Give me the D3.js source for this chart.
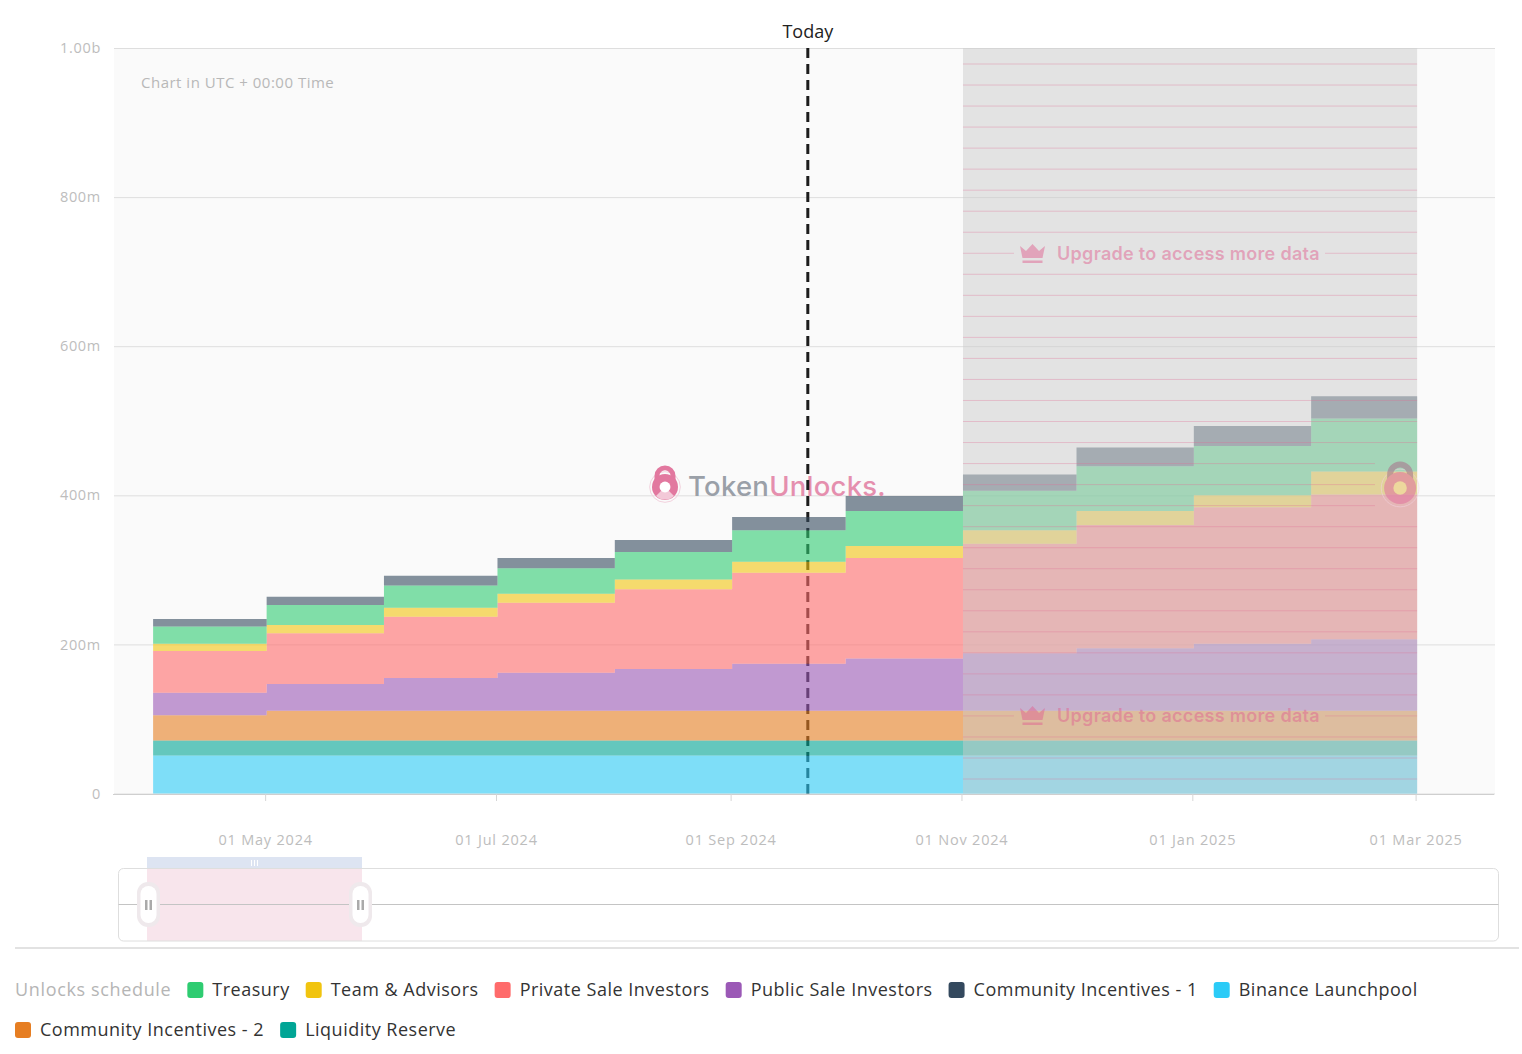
<!DOCTYPE html>
<html>
<head>
<meta charset="utf-8">
<style>
  body { margin: 0; background: #fff; }
  svg { display: block; font-family: "Open Sans", sans-serif; }
</style>
<script src="https://cdn.jsdelivr.net/npm/d3@7"></script>
</head>
<body>
<svg id="chart" width="1522" height="1054"></svg>
<script>
// start of each monthly unlock step, the last one only closes the final step
var stepDates = ["2024-04-01","2024-05-01","2024-06-01","2024-07-01","2024-08-01","2024-09-01",
                 "2024-10-01","2024-11-01","2024-12-01","2025-01-01","2025-02-01","2025-03-01"];

// values in millions of tokens
var binanceLaunchpool = [51,51,51,51,51,51,51,51,51,51,51];
var liquidityReserve = [20,20,20,20,20,20,20,20,20,20,20];
var communityIncentives2 = [34,40,40,40,40,40,40,40,40,40,40];
var publicSaleInvestors = [30,36,44,51,56,63,70,77,84,90,96];
var privateSaleInvestors = [56,68,82,94,107,122,135,147,165,183,194];
var teamAdvisors = [10,11,12,12,13,15,16,18,19,16,31];
var treasury = [23,27,30,34,37,42,47,53,60,66,71];
var communityIncentives1 = [10,11,13,14,16,18,20,22,25,27,30];

var yTickValues = [0,200,400,600,800,1000];
var yTickLabels = ["0","200m","400m","600m","800m","1.00b"];
var xTickDates = ["2024-05-01","2024-07-01","2024-09-01","2024-11-01","2025-01-01","2025-03-01"];
var todayDate = "2024-09-21";
var lockedFrom = "2024-11-01";
var lockedTo = "2025-03-01";

var legendNames = ["Treasury","Team & Advisors","Private Sale Investors","Public Sale Investors",
                   "Community Incentives - 1","Binance Launchpool","Community Incentives - 2","Liquidity Reserve"];
var legendColors = ["#2ecc71","#f1c40f","#ff6b6b","#9b59b6","#34495e","#2bcbf7","#e67e22","#00a595"];

// bottom to top, same order the chart stacks them
var stackOrder = [
  {name: "Binance Launchpool", values: binanceLaunchpool},
  {name: "Liquidity Reserve", values: liquidityReserve},
  {name: "Community Incentives - 2", values: communityIncentives2},
  {name: "Public Sale Investors", values: publicSaleInvestors},
  {name: "Private Sale Investors", values: privateSaleInvestors},
  {name: "Team & Advisors", values: teamAdvisors},
  {name: "Treasury", values: treasury},
  {name: "Community Incentives - 1", values: communityIncentives1}
];

var parseDate = d3.utcParse("%Y-%m-%d");
var svg = d3.select("#chart");

var plot = {left: 114, right: 1495, top: 48, bottom: 793.5};

var x = d3.scaleUtc()
  .domain([new Date(Date.UTC(2024,2,21,16)), new Date(Date.UTC(2025,2,21,14))])
  .range([plot.left, plot.right]);
var y = d3.scaleLinear().domain([0,1000]).range([plot.bottom, plot.top]);
var color = d3.scaleOrdinal().domain(legendNames).range(legendColors);

svg.append("rect")
  .attr("x", plot.left).attr("y", plot.top)
  .attr("width", plot.right - plot.left).attr("height", plot.bottom - plot.top)
  .attr("fill", "#fafafa");

// y axis with gridlines
var yAxis = svg.append("g")
  .attr("transform", "translate(" + plot.left + ",0)")
  .call(d3.axisLeft(y)
    .tickValues(yTickValues)
    .tickSize(-(plot.right - plot.left))
    .tickPadding(13)
    .tickFormat(function(d, i) { return yTickLabels[i]; }));
yAxis.select(".domain").remove();
yAxis.selectAll("line").attr("stroke", "#dedede");
yAxis.selectAll("text").attr("fill", "#bdbdbd").style("font-size", "14.5px")
  .style("font-family", "'Open Sans'").style("letter-spacing", "0.7px");

// x axis
var xAxis = svg.append("g")
  .attr("transform", "translate(-1.5," + (plot.bottom + 0.5) + ")")
  .call(d3.axisBottom(x)
    .tickValues(xTickDates.map(parseDate))
    .tickSize(7)
    .tickSizeOuter(0)
    .tickPadding(34)
    .tickFormat(d3.utcFormat("%d %b %Y")));
xAxis.select(".domain").attr("stroke", "#cfcfcf");
xAxis.selectAll("line").attr("stroke", "#d6d6d6");
xAxis.selectAll("text").attr("fill", "#bdbdbd").style("font-size", "14.5px")
  .style("font-family", "'Open Sans'").style("letter-spacing", "0.8px");

svg.append("text")
  .attr("x", 141).attr("y", 88)
  .attr("fill", "#b8b8b8").style("font-size", "15px").style("letter-spacing", "0.5px")
  .text("Chart in UTC + 00:00 Time");

// lock icon of the watermark
function drawLock(cx, cy, r, bodyColor, shackleColor, holeColor) {
  var g = svg.append("g").attr("transform", "translate(" + cx + "," + cy + ")");
  g.append("circle").attr("r", r * 1.18).attr("fill", "none").attr("stroke", "#f3d2de").attr("stroke-width", 1);
  g.append("path")
    .attr("d", "M" + (-r*0.62) + "," + (-r*0.5) + "V" + (-r*0.85) + "A" + (r*0.62) + "," + (r*0.62) + " 0 0 1 " + (r*0.62) + "," + (-r*0.85) + "V" + (-r*0.5))
    .attr("fill", "none").attr("stroke", shackleColor).attr("stroke-width", r*0.38);
  g.append("circle").attr("r", r).attr("fill", bodyColor);
  g.append("circle").attr("r", r*0.42).attr("fill", holeColor);
  return g;
}

// first logo stays under the areas
var firstLock = drawLock(665, 487, 13, "#e2789f", "#e2789f", "#fff");
firstLock.append("path")
  .attr("d", "M-9,9A13,13 0 0 0 9,9L4,4H-4Z")
  .attr("fill", "#fff").attr("fill-opacity", 0.6);

var wm = svg.append("text")
  .attr("x", 688).attr("y", 496)
  .style("font-family", "Inter").style("font-size", "27.5px").style("font-weight", 500).style("letter-spacing", "0.25px");
wm.append("tspan").attr("fill", "#9aa0a8").text("Token");
wm.append("tspan").attr("fill", "#e58fae").text("Unlocks.");

// today marker, the areas are painted over it
svg.append("text")
  .attr("x", x(parseDate(todayDate))).attr("y", 38)
  .attr("text-anchor", "middle")
  .attr("fill", "#222").style("font-size", "18px")
  .text("Today");
svg.append("line")
  .attr("x1", x(parseDate(todayDate))).attr("x2", x(parseDate(todayDate)))
  .attr("y1", plot.top).attr("y2", plot.bottom)
  .attr("stroke", "#1c1c1c").attr("stroke-width", 3)
  .attr("stroke-dasharray", "10,6");

// stacked step areas
var rows = stepDates.map(function(d, i) {
  var row = {date: parseDate(d)};
  stackOrder.forEach(function(s) {
    row[s.name] = s.values[Math.min(i, s.values.length - 1)];
  });
  return row;
});

var series = d3.stack().keys(stackOrder.map(function(s) { return s.name; }))(rows);

var area = d3.area()
  .curve(d3.curveStepAfter)
  .x(function(d) { return x(d.data.date); })
  .y0(function(d) { return y(d[0]); })
  .y1(function(d) { return y(d[1]); });

svg.append("g").selectAll("path")
  .data(series)
  .join("path")
  .attr("d", area)
  .attr("fill", function(d) { return color(d.key); })
  .attr("fill-opacity", 0.6);

// paywall cover on the months that are locked
var lockX0 = x(parseDate(lockedFrom));
var lockX1 = x(parseDate(lockedTo));

svg.append("rect")
  .attr("x", lockX0).attr("y", plot.top)
  .attr("width", lockX1 - lockX0).attr("height", plot.bottom - plot.top)
  .attr("fill", "rgb(202,202,202)").attr("fill-opacity", 0.48);

var coverPink = "rgba(224,110,150,0.33)";
var coverRows = d3.range(0, 35).map(function(i) { return 64 + i * 21.03; });
var upgradeRows = [254, 716];

coverRows.forEach(function(yy, i) {
  var isUpgrade = upgradeRows.some(function(u) { return Math.abs(u - yy) < 5; });
  if (isUpgrade) {
    svg.append("line").attr("x1", lockX0).attr("x2", 1014).attr("y1", yy).attr("y2", yy).attr("stroke", coverPink);
    svg.append("line").attr("x1", 1325).attr("x2", lockX1).attr("y1", yy).attr("y2", yy).attr("stroke", coverPink);
  } else {
    // rows behind the second logo stop short of it
    var end = (yy > 455 && yy < 515) ? 1375 : lockX1;
    svg.append("line").attr("x1", lockX0).attr("x2", end).attr("y1", yy).attr("y2", yy).attr("stroke", coverPink);
  }
});

// second logo shows through the cover
drawLock(lockX1 - 17, 488, 16, "#e2789f", "#a9788f", "#f5dca0")
  .attr("opacity", 0.6);

upgradeRows.forEach(function(yy) {
  svg.append("path")
    .attr("transform", "translate(1020," + (yy - 10) + ")")
    .attr("d", "M0,2L6,7L12.5,0L19,7L25,2L22.5,14H2.5ZM2.5,16.5H22.5V19H2.5Z")
    .attr("fill", "rgba(224,100,145,0.5)");
  svg.append("text")
    .attr("x", 1057).attr("y", yy + 6)
    .attr("fill", "rgba(224,100,145,0.5)")
    .style("font-family", "Inter").style("font-size", "18px").style("font-weight", 600).style("letter-spacing", "0.3px")
    .text("Upgrade to access more data");
});

// range slider below the chart
svg.append("rect")
  .attr("x", 147).attr("y", 868).attr("width", 215).attr("height", 73)
  .attr("fill", "#f8e5ec");
svg.append("rect")
  .attr("x", 147).attr("y", 857).attr("width", 215).attr("height", 11)
  .attr("fill", "#dde4f2");
svg.append("rect")
  .attr("x", 118.5).attr("y", 868.5).attr("width", 1380).attr("height", 72.5).attr("rx", 5)
  .attr("fill", "none").attr("stroke", "#dedede");
svg.append("line")
  .attr("x1", 118.5).attr("x2", 1498.5).attr("y1", 904.5).attr("y2", 904.5)
  .attr("stroke", "#c4c4c4");
[251.5, 254.5, 257.5].forEach(function(xx) {
  svg.append("line").attr("x1", xx).attr("x2", xx).attr("y1", 860).attr("y2", 866).attr("stroke", "#fff");
});
[148.5, 360.5].forEach(function(cx) {
  svg.append("rect").attr("x", cx - 11.5).attr("y", 882).attr("width", 23).attr("height", 45).attr("rx", 11).attr("fill", "#efe9ec");
  svg.append("rect").attr("x", cx - 8).attr("y", 886).attr("width", 16).attr("height", 37).attr("rx", 8).attr("fill", "#fff");
  svg.append("rect").attr("x", cx - 3.5).attr("y", 900).attr("width", 2.5).attr("height", 10).attr("fill", "#aaa");
  svg.append("rect").attr("x", cx + 1).attr("y", 900).attr("width", 2.5).attr("height", 10).attr("fill", "#aaa");
});

svg.append("line")
  .attr("x1", 15).attr("x2", 1519).attr("y1", 948).attr("y2", 948)
  .attr("stroke", "#e2e2e2").attr("stroke-width", 2);

// legend, flows into a second row like the original
var legend = svg.append("g").style("font-size", "18px").style("letter-spacing", "0.5px");
var title = legend.append("text")
  .attr("x", 15).attr("y", 996)
  .attr("fill", "#b5b5b5").style("letter-spacing", "0.65px").text("Unlocks schedule");

var lx = 15 + title.node().getComputedTextLength() + 16;
var ly = 990;
legendNames.forEach(function(name) {
  var t = legend.append("text").attr("y", ly + 6).attr("fill", "#333").text(name);
  var w = t.node().getComputedTextLength();
  if (lx + 25 + w > 1430) {
    lx = 15;
    ly += 40;
    t.attr("y", ly + 6);
  }
  t.attr("x", lx + 25);
  legend.append("rect")
    .attr("x", lx).attr("y", ly - 8).attr("width", 16).attr("height", 16).attr("rx", 3)
    .attr("fill", color(name));
  lx += 25 + w + 16;
});
</script>
</body>
</html>
